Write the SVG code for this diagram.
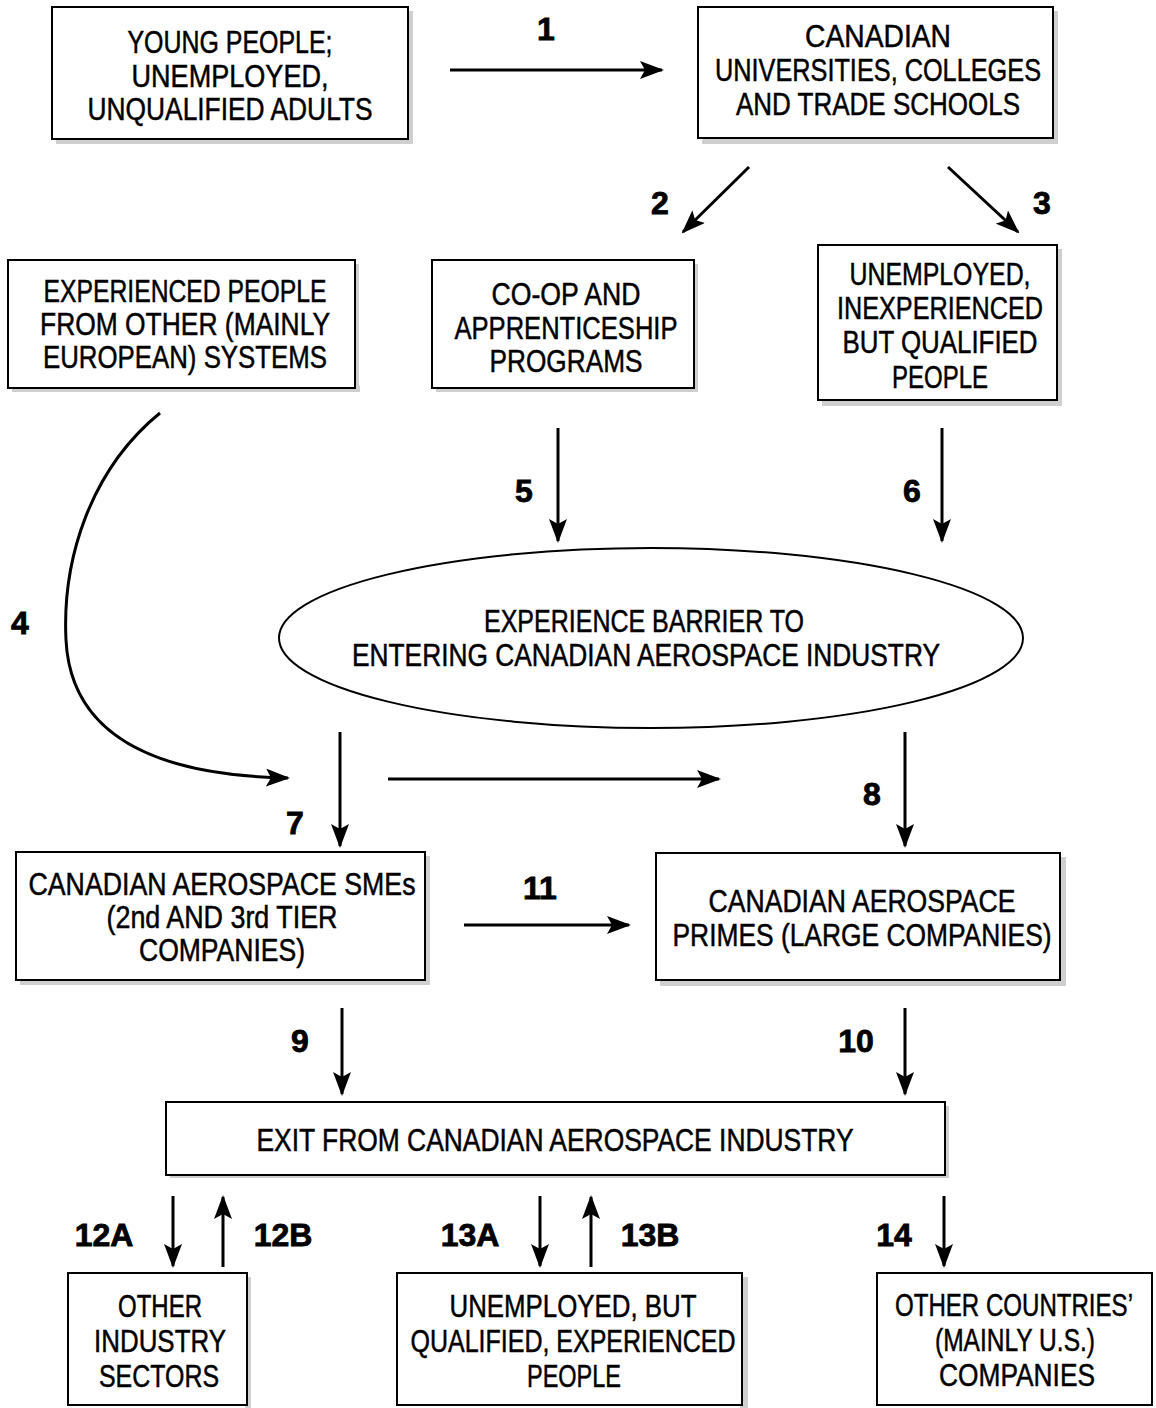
<svg xmlns="http://www.w3.org/2000/svg" width="1156" height="1408" viewBox="0 0 1156 1408">
<style>
.box{fill:#fff;stroke:#000;stroke-width:2}
.sh{fill:#cfcfcf}
.t{font-family:"Liberation Sans",Arial,sans-serif;font-size:32px;text-anchor:middle;fill:#000;stroke:#000;stroke-width:0.5}
.lb{font-family:"Liberation Sans",Arial,sans-serif;font-size:32px;font-weight:bold;text-anchor:middle;fill:#000;stroke:#000;stroke-width:0.8}
.c{fill:none;stroke:#000;stroke-width:3;marker-end:url(#ah)}
</style>
<defs>
<marker id="ah" markerUnits="userSpaceOnUse" markerWidth="24" markerHeight="18" refX="22" refY="9" orient="auto">
<path d="M0,0 L24,9 L0,18 L5,9 Z" fill="#000"/>
</marker>
</defs>
<rect width="1156" height="1408" fill="#fff"/>

<g id="n-young">
<rect class="sh" x="56" y="137" width="357" height="7"/><rect class="sh" x="406" y="11" width="7" height="133"/>
<rect class="box" x="52" y="7" width="356" height="132"/>
<text class="t" x="230" y="53" textLength="205" lengthAdjust="spacingAndGlyphs">YOUNG PEOPLE;</text>
<text class="t" x="230" y="87" textLength="197" lengthAdjust="spacingAndGlyphs">UNEMPLOYED,</text>
<text class="t" x="230" y="120" textLength="285" lengthAdjust="spacingAndGlyphs">UNQUALIFIED ADULTS</text>
</g>

<g id="n-univ">
<rect class="sh" x="702" y="136" width="356" height="8"/><rect class="sh" x="1051" y="11" width="7" height="133"/>
<rect class="box" x="698" y="7" width="355" height="131"/>
<text class="t" x="878" y="47" textLength="146" lengthAdjust="spacingAndGlyphs">CANADIAN</text>
<text class="t" x="878" y="81" textLength="326" lengthAdjust="spacingAndGlyphs">UNIVERSITIES, COLLEGES</text>
<text class="t" x="878" y="115" textLength="284" lengthAdjust="spacingAndGlyphs">AND TRADE SCHOOLS</text>
</g>

<g id="n-exp">
<rect class="sh" x="12" y="386" width="348" height="6"/><rect class="sh" x="353" y="264" width="6" height="128"/>
<rect class="box" x="8" y="260" width="347" height="128"/>
<text class="t" x="185" y="302" textLength="283" lengthAdjust="spacingAndGlyphs">EXPERIENCED PEOPLE</text>
<text class="t" x="185" y="335" textLength="290" lengthAdjust="spacingAndGlyphs">FROM OTHER (MAINLY</text>
<text class="t" x="185" y="368" textLength="284" lengthAdjust="spacingAndGlyphs">EUROPEAN) SYSTEMS</text>
</g>

<g id="n-coop">
<rect class="sh" x="436" y="386" width="262" height="6"/><rect class="sh" x="692" y="264" width="6" height="128"/>
<rect class="box" x="432" y="260" width="262" height="128"/>
<text class="t" x="566" y="305" textLength="149" lengthAdjust="spacingAndGlyphs">CO-OP AND</text>
<text class="t" x="566" y="339" textLength="223" lengthAdjust="spacingAndGlyphs">APPRENTICESHIP</text>
<text class="t" x="566" y="372" textLength="153" lengthAdjust="spacingAndGlyphs">PROGRAMS</text>
</g>

<g id="n-unexp">
<rect class="sh" x="822" y="398" width="240" height="8"/><rect class="sh" x="1055" y="249" width="7" height="157"/>
<rect class="box" x="818" y="245" width="239" height="155"/>
<text class="t" x="940" y="285" textLength="181" lengthAdjust="spacingAndGlyphs">UNEMPLOYED,</text>
<text class="t" x="940" y="319" textLength="206" lengthAdjust="spacingAndGlyphs">INEXPERIENCED</text>
<text class="t" x="940" y="353" textLength="195" lengthAdjust="spacingAndGlyphs">BUT QUALIFIED</text>
<text class="t" x="940" y="388" textLength="96" lengthAdjust="spacingAndGlyphs">PEOPLE</text>
</g>

<g id="n-barrier">
<ellipse cx="651" cy="638" rx="372" ry="90" fill="#fff" stroke="#000" stroke-width="2"/>
<text class="t" x="644" y="632" textLength="320" lengthAdjust="spacingAndGlyphs">EXPERIENCE BARRIER TO</text>
<text class="t" x="646" y="666" textLength="588" lengthAdjust="spacingAndGlyphs">ENTERING CANADIAN AEROSPACE INDUSTRY</text>
</g>

<g id="n-smes">
<rect class="sh" x="20" y="978" width="410" height="7"/><rect class="sh" x="423" y="856" width="7" height="129"/>
<rect class="box" x="16" y="852" width="409" height="128"/>
<text class="t" x="222" y="895" textLength="387" lengthAdjust="spacingAndGlyphs">CANADIAN AEROSPACE SMEs</text>
<text class="t" x="222" y="928" textLength="231" lengthAdjust="spacingAndGlyphs">(2nd AND 3rd TIER</text>
<text class="t" x="222" y="961" textLength="166" lengthAdjust="spacingAndGlyphs">COMPANIES)</text>
</g>

<g id="n-primes">
<rect class="sh" x="660" y="978" width="406" height="8"/><rect class="sh" x="1058" y="857" width="8" height="129"/>
<rect class="box" x="656" y="853" width="404" height="127"/>
<text class="t" x="862" y="912" textLength="307" lengthAdjust="spacingAndGlyphs">CANADIAN AEROSPACE</text>
<text class="t" x="862" y="946" textLength="379" lengthAdjust="spacingAndGlyphs">PRIMES (LARGE COMPANIES)</text>
</g>

<g id="n-exit">
<rect class="sh" x="170" y="1173" width="779" height="5"/><rect class="sh" x="943" y="1106" width="6" height="72"/>
<rect class="box" x="166" y="1102" width="779" height="73"/>
<text class="t" x="555" y="1151" textLength="597" lengthAdjust="spacingAndGlyphs">EXIT FROM CANADIAN AEROSPACE INDUSTRY</text>
</g>

<g id="n-other">
<rect class="sh" x="245" y="1277" width="6" height="131"/>
<rect class="box" x="68" y="1273" width="179" height="132"/>
<text class="t" x="160" y="1317" textLength="84" lengthAdjust="spacingAndGlyphs">OTHER</text>
<text class="t" x="160" y="1352" textLength="132" lengthAdjust="spacingAndGlyphs">INDUSTRY</text>
<text class="t" x="159" y="1387" textLength="120" lengthAdjust="spacingAndGlyphs">SECTORS</text>
</g>

<g id="n-unqual">
<rect class="sh" x="740" y="1277" width="8" height="131"/>
<rect class="box" x="397" y="1273" width="345" height="132"/>
<text class="t" x="573" y="1317" textLength="247" lengthAdjust="spacingAndGlyphs">UNEMPLOYED, BUT</text>
<text class="t" x="573" y="1352" textLength="325" lengthAdjust="spacingAndGlyphs">QUALIFIED, EXPERIENCED</text>
<text class="t" x="574" y="1387" textLength="94" lengthAdjust="spacingAndGlyphs">PEOPLE</text>
</g>

<g id="n-countries">
<rect class="box" x="877" y="1273" width="275" height="132"/>
<text class="t" x="1014" y="1316" textLength="238" lengthAdjust="spacingAndGlyphs">OTHER COUNTRIES’</text>
<text class="t" x="1015" y="1351" textLength="160" lengthAdjust="spacingAndGlyphs">(MAINLY U.S.)</text>
<text class="t" x="1017" y="1386" textLength="156" lengthAdjust="spacingAndGlyphs">COMPANIES</text>
</g>

<g id="connectors">
<path class="c" d="M450,70 L662,70"/>
<path class="c" d="M749,167 L683,232"/>
<path class="c" d="M948,167 L1018,232"/>
<path class="c" d="M160,413 C90,470 62,560 66,640 C70,720 130,775 288,778"/>
<path class="c" d="M558,428 L558,541"/>
<path class="c" d="M942,428 L942,541"/>
<path class="c" d="M340,732 L340,846"/>
<path class="c" d="M388,779 L719,779"/>
<path class="c" d="M905,732 L905,846"/>
<path class="c" d="M464,925 L629,925"/>
<path class="c" d="M342,1008 L342,1094"/>
<path class="c" d="M905,1008 L905,1094"/>
<path class="c" d="M173,1196 L173,1266"/>
<path class="c" d="M223,1267 L223,1197"/>
<path class="c" d="M540,1196 L540,1266"/>
<path class="c" d="M591,1267 L591,1197"/>
<path class="c" d="M944,1196 L944,1266"/>
</g>

<g id="labels">
<text class="lb" x="546" y="40">1</text>
<text class="lb" x="660" y="214">2</text>
<text class="lb" x="1042" y="214">3</text>
<text class="lb" x="20" y="634">4</text>
<text class="lb" x="524" y="502">5</text>
<text class="lb" x="912" y="502">6</text>
<text class="lb" x="295" y="834">7</text>
<text class="lb" x="872" y="805">8</text>
<text class="lb" x="300" y="1052">9</text>
<text class="lb" x="856" y="1052">10</text>
<text class="lb" x="540" y="899">11</text>
<text class="lb" x="104" y="1246">12A</text>
<text class="lb" x="283" y="1246">12B</text>
<text class="lb" x="470" y="1246">13A</text>
<text class="lb" x="650" y="1246">13B</text>
<text class="lb" x="894" y="1246">14</text>
</g>
</svg>
